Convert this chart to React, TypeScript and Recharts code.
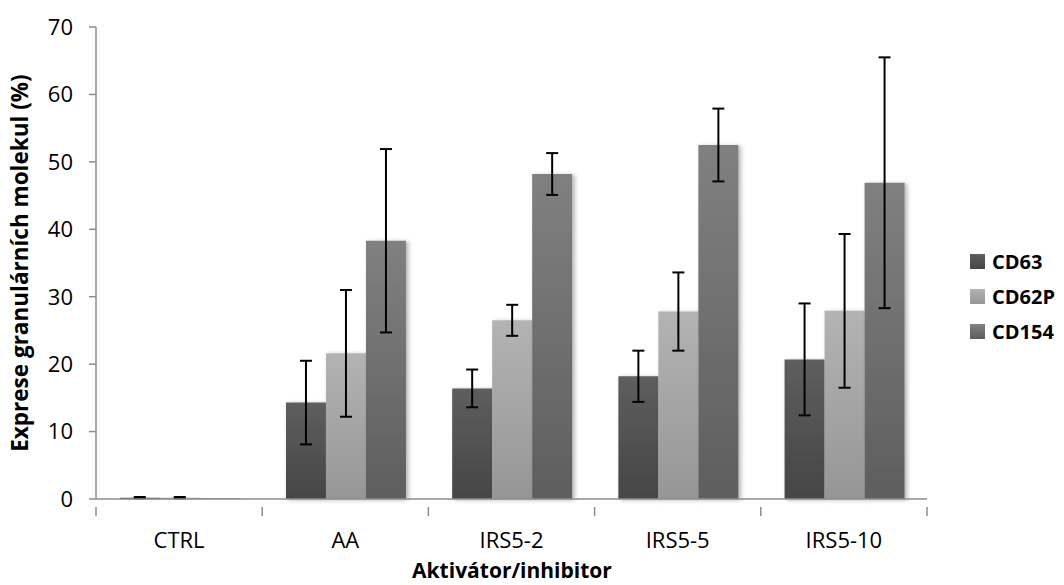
import React from "react";
import { BarChart, Bar, XAxis, YAxis, ErrorBar } from "recharts";

const categories = ["CTRL", "AA", "IRS5-2", "IRS5-5", "IRS5-10"];
const cd63 = [0.2, 14.3, 16.4, 18.2, 20.7];
const cd63Sd = [0.1, 6.2, 2.8, 3.8, 8.3];
const cd62p = [0.2, 21.6, 26.5, 27.8, 27.9];
const cd62pSd = [0.1, 9.4, 2.3, 5.8, 11.4];
const cd154 = [0.1, 38.3, 48.2, 52.5, 46.9];
const cd154Sd = [0, 13.6, 3.1, 5.4, 18.6];
const yTicks = [0, 10, 20, 30, 40, 50, 60, 70];

const series = [
  { key: "cd63", name: "CD63", top: "#5e5e5e", bottom: "#464646" },
  { key: "cd62p", name: "CD62P", top: "#b3b3b3", bottom: "#969696" },
  { key: "cd154", name: "CD154", top: "#808080", bottom: "#5e5e5e" },
];

const data = categories.map((c, i) => ({
  name: c,
  cd63: cd63[i],
  cd63Sd: cd63Sd[i],
  cd62p: cd62p[i],
  cd62pSd: cd62pSd[i],
  cd154: cd154[i],
  cd154Sd: cd154Sd[i],
}));

const FONT = "'Open Sans', sans-serif";
const AXIS = "#8c8c8c";

// category label plus boundary tick marks between groups
const CategoryTick = (props: any) => {
  const { x, y, payload, index } = props;
  const half = payload.offset ?? 0;
  return (
    <g>
      <line x1={x - half} y1={y} x2={x - half} y2={y + 9} stroke={AXIS} strokeWidth={1.5} />
      {index === categories.length - 1 && (
        <line x1={x + half} y1={y} x2={x + half} y2={y + 9} stroke={AXIS} strokeWidth={1.5} />
      )}
      <text x={x} y={y + 41} textAnchor="middle" fontSize={22} fontFamily={FONT} fill="#000">
        {payload.value}
      </text>
    </g>
  );
};

export default function App() {
  return (
    <div style={{ position: "fixed", left: 0, top: 0, width: 1064, height: 585, background: "#fff" }}>
      <BarChart
        width={1064}
        height={585}
        data={data}
        margin={{ top: 27, right: 137, bottom: 0, left: 0 }}
        barCategoryGap="14.3%"
        barGap={0}
      >
        <defs>
          {series.map((s) => (
            <linearGradient key={s.key} id={`grad-${s.key}`} x1="0" y1="0" x2="0" y2="1">
              <stop offset="0%" stopColor={s.top} />
              <stop offset="100%" stopColor={s.bottom} />
            </linearGradient>
          ))}
          <filter id="barShadow" x="-20%" y="-5%" width="150%" height="110%">
            <feDropShadow dx="2.5" dy="1" stdDeviation="2" floodColor="#000" floodOpacity="0.3" />
          </filter>
        </defs>
        <XAxis
          dataKey="name"
          height={86}
          axisLine={{ stroke: AXIS, strokeWidth: 1.5 }}
          tickLine={false}
          tick={<CategoryTick />}
          interval={0}
        />
        <YAxis
          width={96}
          domain={[0, 70]}
          ticks={yTicks}
          interval={0}
          axisLine={{ stroke: AXIS, strokeWidth: 1.5 }}
          tickLine={{ stroke: AXIS, strokeWidth: 1.5 }}
          tickSize={7}
          tickMargin={16}
          tick={{ fontSize: 22, fontFamily: FONT, fill: "#000" }}
          label={{
            value: "Exprese granulárních molekul (%)",
            angle: -90,
            position: "insideLeft",
            offset: 0,
            dx: 20,
            style: { fontSize: 22.5, fontWeight: 700, fontFamily: FONT, fill: "#000", textAnchor: "middle" },
          }}
        />
        {series.map((s) => (
          <Bar
            key={s.key}
            dataKey={s.key}
            name={s.name}
            fill={`url(#grad-${s.key})`}
            filter="url(#barShadow)"
            isAnimationActive={false}
          >
            <ErrorBar dataKey={`${s.key}Sd`} stroke="#000" strokeWidth={2} width={6} />
          </Bar>
        ))}
        <text x={512} y={578} textAnchor="middle" fontSize={21} fontWeight={700} fontFamily={FONT} fill="#000">
          Aktivátor/inhibitor
        </text>
      </BarChart>
      <div style={{ position: "absolute", left: 970, top: 244, fontFamily: FONT }}>
        {series.map((s) => (
          <div key={s.key} style={{ display: "flex", alignItems: "center", height: 35 }}>
            <div
              style={{
                width: 15,
                height: 15,
                background: `linear-gradient(${s.top}, ${s.bottom})`,
                marginRight: 7,
              }}
            />
            <span style={{ fontSize: 20, fontWeight: 700, color: "#000", whiteSpace: "nowrap" }}>{s.name}</span>
          </div>
        ))}
      </div>
    </div>
  );
}
